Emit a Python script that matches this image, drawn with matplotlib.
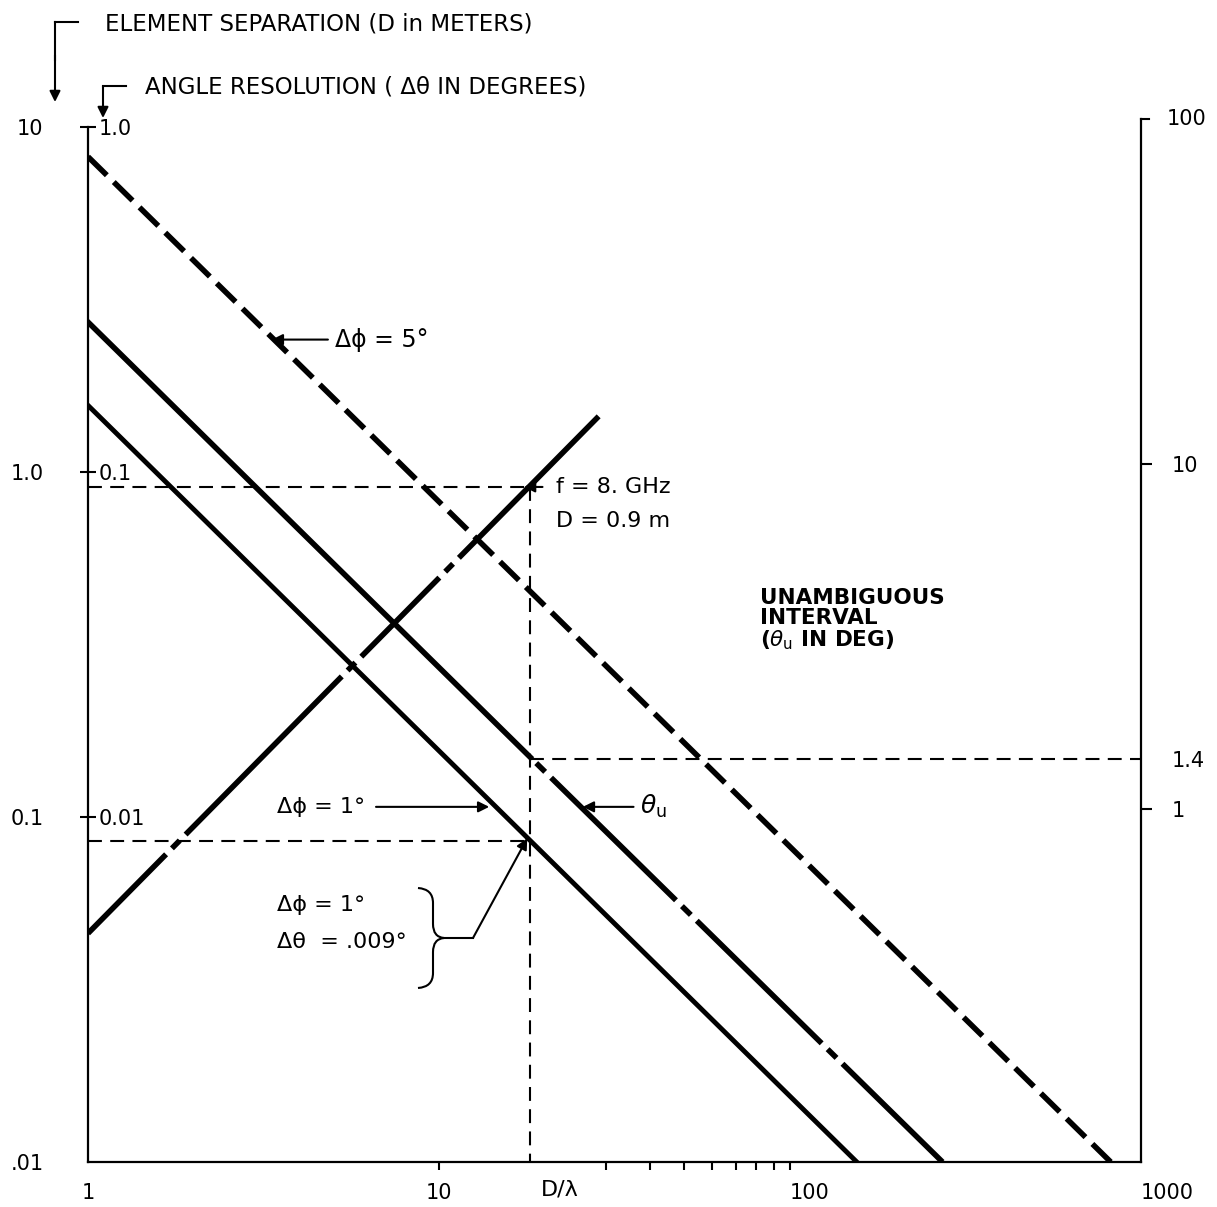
import matplotlib.pyplot as plt
import matplotlib.transforms as mtransforms
from matplotlib.path import Path
from matplotlib.patches import PathPatch
from matplotlib.lines import Line2D
from matplotlib.ticker import FixedLocator, NullFormatter, NullLocator

plt.rcParams['font.family'] = ['DejaVu Sans']
plt.rcParams['lines.scale_dashes'] = False
plt.rcParams['font.size'] = 16

# curves: D/lambda vs element separation D (m)
dphi5_x = [1, 820]
dphi5_y = [8.2, 0.01]
theta_u_x = [1, 18.2, 272]
theta_u_y = [2.72, 0.149, 0.01]
dphi1_x = [1, 155]
dphi1_y = [1.56, 0.01]
freq_x = [1, 28.5]
freq_y = [0.046, 1.45]

# operating point, f = 8 GHz
op_x = 18.2
op_d = 0.905
op_res_d = 0.085
op_theta_u = 1.4

d_ticks = [0.01, 0.1, 1, 10]
d_labels = ['.01', '0.1', '1.0', '10']
res_ticks = [0.01, 0.1, 1]
res_labels = ['0.01', '0.1', '1.0']
tu_ticks = [1, 1.4, 10]
tu_labels = ['1', '1.4', '10']
x_ticks = [1, 10, 100, 1000]
x_labels = ['1', '10', '100', '1000']
x_minor = [30, 40, 50, 60, 70, 80, 90]

W, H = 1217, 1207
L, R, T, B = 88, 1141, 127, 1162

fig = plt.figure(figsize=(W / 100, H / 100), dpi=100)
ax = fig.add_axes([L / W, 1 - B / H, (R - L) / W, (B - T) / H])
ax.set_xscale('log')
ax.set_yscale('log')
ax.set_xlim(1, 1000)
ax.set_ylim(0.01, 10)
for s in ['top', 'right']:
    ax.spines[s].set_visible(False)
for s in ['left', 'bottom']:
    ax.spines[s].set_linewidth(1.6)

ax.set_xticks(x_ticks)
ax.set_xticklabels(x_labels)
for lab in ax.get_xticklabels()[2:]:
    lab.set_ha('left')
for tk in (ax.xaxis.get_major_ticks()[0], ax.xaxis.get_major_ticks()[-1]):
    tk.tick1line.set_visible(False)
ax.xaxis.set_minor_locator(FixedLocator(x_minor))
ax.xaxis.set_minor_formatter(NullFormatter())
ax.tick_params(axis='x', which='both', direction='out', length=6, width=1.5, pad=9,
               labelsize=15)
ax.set_yticks(d_ticks)
ax.set_yticklabels(d_labels)
ax.yaxis.set_minor_locator(NullLocator())
ax.tick_params(axis='y', length=0, pad=32, labelsize=15)
ax.set_xlabel('D/λ', fontsize=16)
ax.xaxis.set_label_coords(0.448, -0.0165)

# angle resolution scale on the same spine
ax3 = ax.twinx()
ax3.set_yscale('log')
ax3.set_ylim(0.001, 1)
ax3.spines['right'].set_position(('axes', 0))
for s in ax3.spines.values():
    s.set_visible(False)
ax3.set_yticks(res_ticks)
ax3.set_yticklabels(res_labels)
ax3.yaxis.set_minor_locator(NullLocator())
ax3.tick_params(axis='y', direction='inout', length=12, width=1.5, pad=2, labelsize=15)

# unambiguous interval scale
ax2 = ax.twinx()
ax2.set_yscale('log')
ax2.set_ylim(0.095, 95)
for s in ['left', 'top', 'bottom']:
    ax2.spines[s].set_visible(False)
ax2.spines['right'].set_linewidth(1.6)
ax2.spines['right'].set_bounds(0.095, 100)
ax2.set_yticks(tu_ticks)
ax2.set_yticklabels(tu_labels)
ax2.yaxis.set_minor_locator(NullLocator())
ax2.tick_params(axis='y', direction='out', length=8, width=1.5, pad=14, labelsize=15)
ax2.yaxis.get_major_ticks()[1].tick2line.set_visible(False)
edge = mtransforms.blended_transform_factory(ax2.transAxes, ax2.transData)
ax2.plot([1, 1.008], [100, 100], color='k', lw=1.5, transform=edge, clip_on=False)
ax2.text(1.024, 100, '100', transform=edge, va='center', ha='left', fontsize=15)

# curves
ax.plot(dphi5_x, dphi5_y, color='k', lw=4, ls=(0, (19, 7)))
ax.plot(theta_u_x[:2], theta_u_y[:2], color='k', lw=4)
ax.plot(theta_u_x[1:], theta_u_y[1:], color='k', lw=4, ls=(126, (126, 6, 9, 6)))
ax.plot(dphi1_x, dphi1_y, color='k', lw=3.5)
ax.plot(freq_x, freq_y, color='k', lw=4, ls=(0, (80, 6, 8, 6, 160, 6, 8, 6)))

# operating point guides
guide = dict(color='k', lw=1.5, ls=(0, (10, 6)))
ax.plot([1, op_x], [op_d, op_d], **guide)
ax.plot([op_x, op_x], [op_d, 0.01], **guide)
ax.plot([1, op_x], [op_res_d, op_res_d], **guide)
ax2.plot([op_x, 1000], [op_theta_u, op_theta_u], **guide)

arrow = dict(arrowstyle='-|>', color='k', lw=1.5, mutation_scale=16, shrinkA=3, shrinkB=0)
ax.annotate('Δϕ = 5°', xy=(3.34, 2.42), xytext=(5.05, 2.42), va='center', arrowprops=arrow,
            fontsize=17)
ax.annotate('f = 8. GHz', xy=(op_x * 0.96, op_d), xytext=(21.6, op_d), va='center',
            arrowprops=dict(arrow, shrinkA=8))
ax.text(21.6, 0.72, 'D = 0.9 m', va='center')
ax.text(82, 0.46, 'UNAMBIGUOUS\nINTERVAL\n($\\theta_{\\rm u}$ IN DEG)', va='top',
        linespacing=1.0, fontweight='bold', fontsize=15.5)
ax.annotate('Δϕ = 1°', xy=(13.9, 0.107), xytext=(3.45, 0.107), va='center',
            arrowprops=dict(arrow, shrinkA=6))
ax.annotate('$\\theta_{\\rm u}$', xy=(25.7, 0.107), xytext=(37.5, 0.107), va='center',
            arrowprops=arrow, fontsize=18)
ax.text(3.45, 0.0557, 'Δϕ = 1°', va='center')
ax.text(3.45, 0.0433, 'Δθ  = .009°', va='center')

# brace gathering the two labels
def fx(px):
    return (px - L) / (R - L)

def fy(py):
    return (B - py) / (B - T)

pts = [(418, 888), (433, 889), (433, 903), (433, 924), (433, 937), (444, 938),
       (433, 939), (433, 952), (433, 973), (433, 987), (418, 988)]
codes = [Path.MOVETO, Path.CURVE3, Path.CURVE3, Path.LINETO, Path.CURVE3, Path.CURVE3,
         Path.CURVE3, Path.CURVE3, Path.LINETO, Path.CURVE3, Path.CURVE3]
brace = Path([(fx(x), fy(y)) for x, y in pts], codes)
ax.add_patch(PathPatch(brace, facecolor='none', edgecolor='k', lw=1.5, transform=ax.transAxes))
ax.plot([fx(444), fx(473)], [fy(938), fy(938)], color='k', lw=1.5, transform=ax.transAxes)
ax.annotate('', xy=(op_x * 0.98, op_res_d * 1.02), xytext=(fx(473), fy(938)),
            textcoords='axes fraction', arrowprops=dict(arrow, shrinkA=0))

# scale headers
def fig_pt(px, py):
    return (px / W, 1 - py / H)

fig.text(*fig_pt(105, 24), 'ELEMENT SEPARATION (D in METERS)', va='center', fontsize=16.5)
fig.add_artist(Line2D([55 / W, 78 / W], [1 - 22 / H, 1 - 22 / H], color='k', lw=1.5))
fig.add_artist(Line2D([55 / W, 55 / W], [1 - 22 / H, 1 - 60 / H], color='k', lw=1.5))
ax.annotate('', xy=fig_pt(55, 102), xytext=fig_pt(55, 55), xycoords='figure fraction',
            textcoords='figure fraction', arrowprops=dict(arrow, shrinkA=0))

fig.text(*fig_pt(145, 87), 'ANGLE RESOLUTION ( Δθ IN DEGREES)', va='center', fontsize=16.5)
fig.add_artist(Line2D([103 / W, 126 / W], [1 - 86 / H, 1 - 86 / H], color='k', lw=1.5))
ax.annotate('', xy=fig_pt(103, 118), xytext=fig_pt(103, 86), xycoords='figure fraction',
            textcoords='figure fraction', arrowprops=dict(arrow, shrinkA=0))

fig.savefig('out.png', dpi=100)
